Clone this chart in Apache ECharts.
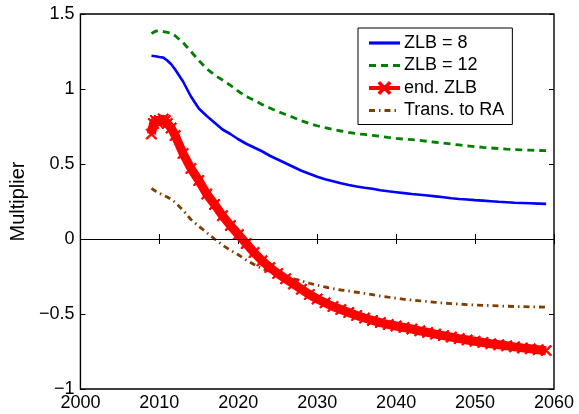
<!DOCTYPE html>
<html>
<head>
<meta charset="utf-8">
<script src="https://cdn.jsdelivr.net/npm/echarts@6/dist/echarts.min.js"></script>
<style>
html,body{margin:0;padding:0;background:#fff;}
#c{width:579px;height:414px;}
</style>
</head>
<body>
<div id="c"></div>
<script>
const years = [2009, 2009.25, 2009.5, 2009.75, 2010, 2010.25, 2010.5, 2010.75, 2011, 2011.5,
  2012, 2013, 2014, 2015, 2016, 2017, 2018, 2019, 2020, 2021, 2022, 2023, 2024, 2025, 2026, 2027, 2028, 2029,
  2030, 2031, 2032, 2033, 2034, 2035, 2036, 2037, 2038, 2039, 2040, 2041, 2042, 2043, 2044, 2045, 2046, 2047,
  2048, 2049, 2050, 2051, 2052, 2053, 2054, 2055, 2056, 2057, 2058, 2059];

const zlb8 = [1.222, 1.222, 1.218, 1.215, 1.213, 1.211, 1.209, 1.205, 1.19, 1.165,
  1.13, 1.05, 0.95, 0.87, 0.82, 0.775, 0.73, 0.70, 0.665, 0.635, 0.61, 0.585, 0.555, 0.53, 0.505, 0.48, 0.455, 0.435,
  0.415, 0.398, 0.385, 0.372, 0.36, 0.35, 0.342, 0.335, 0.325, 0.318, 0.312, 0.306, 0.30, 0.295, 0.29, 0.284, 0.278, 0.272,
  0.267, 0.263, 0.259, 0.256, 0.252, 0.248, 0.245, 0.242, 0.240, 0.238, 0.236, 0.234];

const zlb12 = [1.37, 1.378, 1.385, 1.388, 1.388, 1.386, 1.383, 1.38, 1.378, 1.372,
  1.355, 1.31, 1.25, 1.19, 1.135, 1.093, 1.06, 1.025, 0.985, 0.95, 0.925, 0.897, 0.873, 0.85, 0.83, 0.81, 0.788, 0.77,
  0.755, 0.742, 0.73, 0.72, 0.71, 0.702, 0.697, 0.691, 0.684, 0.677, 0.671, 0.666, 0.662, 0.657, 0.651, 0.645, 0.639, 0.633,
  0.627, 0.621, 0.616, 0.611, 0.607, 0.603, 0.599, 0.596, 0.594, 0.592, 0.590, 0.589];

const endZlb = [0.70, 0.77, 0.79, 0.78, 0.79, 0.78, 0.80, 0.79, 0.77, 0.74,
  0.69, 0.57, 0.47, 0.39, 0.30, 0.23, 0.155, 0.09, 0.03, -0.03, -0.09, -0.145, -0.19, -0.23, -0.265, -0.30, -0.335, -0.37,
  -0.40, -0.425, -0.45, -0.47, -0.49, -0.51, -0.527, -0.543, -0.557, -0.57, -0.58, -0.59, -0.60, -0.612, -0.623, -0.634, -0.644, -0.654,
  -0.664, -0.673, -0.682, -0.69, -0.698, -0.705, -0.712, -0.719, -0.726, -0.732, -0.738, -0.744];

const transRA = [0.338, 0.33, 0.32, 0.312, 0.305, 0.298, 0.292, 0.286, 0.28, 0.265,
  0.245, 0.192, 0.13, 0.085, 0.042, 0.0, -0.04, -0.075, -0.105, -0.14, -0.17, -0.197, -0.215, -0.232, -0.25, -0.265, -0.28, -0.295,
  -0.308, -0.32, -0.33, -0.34, -0.347, -0.355, -0.363, -0.371, -0.38, -0.388, -0.395, -0.402, -0.407, -0.412, -0.417, -0.422, -0.427, -0.431,
  -0.434, -0.437, -0.44, -0.442, -0.444, -0.446, -0.448, -0.45, -0.451, -0.452, -0.453, -0.455];

const seriesNames = ['ZLB = 8', 'ZLB = 12', 'end. ZLB', 'Trans. to RA'];
const yAxisName = 'Multiplier';

function pairs(vals) { return years.map((y, i) => [y, vals[i]]); }
function fmtY(v) {
  const s = String(Math.abs(v));
  return v < 0 ? '\u2212' + s : s;
}
function fmtX(v) { return String(v); }
const FONT = 'Liberation Sans, Arial, Helvetica, sans-serif';
const crossPath = 'path://M0,1 L1,0 L5,4 L9,0 L10,1 L6,5 L10,9 L9,10 L5,6 L1,10 L0,9 L4,5 Z';

const chart = echarts.init(document.getElementById('c'), null, {renderer: 'canvas'});
chart.setOption({
  animation: false,
  backgroundColor: '#fff',
  grid: {left: 79, right: 25, top: 14, bottom: 25, show: true, borderColor: '#000', borderWidth: 1.4, backgroundColor: 'transparent'},
  legend: {
    orient: 'vertical', left: 358, top: 28,
    backgroundColor: '#fff', borderColor: '#000', borderWidth: 1,
    padding: [6, 8, 5, 9], itemGap: 4.5, itemWidth: 31, itemHeight: 14,
    textStyle: {fontFamily: FONT, fontSize: 18, color: '#000', padding: [0, 0, 0, -1]},
    data: [
      {name: seriesNames[0], itemStyle: {opacity: 0}, lineStyle: {width: 3.2}},
      {name: seriesNames[1], itemStyle: {opacity: 0}, lineStyle: {width: 3.2}},
      {name: seriesNames[2], lineStyle: {width: 4}},
      {name: seriesNames[3], itemStyle: {opacity: 0}, lineStyle: {width: 3.2}}
    ]
  },
  xAxis: [{
    type: 'value', min: 2000, max: 2060, interval: 10,
    axisLine: {show: false},
    axisTick: {show: true, inside: true, length: 5, lineStyle: {color: '#000', width: 1}},
    axisLabel: {fontFamily: FONT, fontSize: 18, color: '#000', margin: 5, formatter: fmtX},
    splitLine: {show: false}
  }, {
    type: 'value', min: 2000, max: 2060, interval: 10, position: 'top',
    axisLine: {show: false},
    axisTick: {show: true, inside: true, length: 5, lineStyle: {color: '#000', width: 1}},
    axisLabel: {show: false}, splitLine: {show: false}
  }],
  yAxis: [{
    type: 'value', min: -1, max: 1.5, interval: 0.5,
    name: yAxisName, nameLocation: 'middle', nameGap: 50,
    nameTextStyle: {fontFamily: FONT, fontSize: 20, color: '#000'},
    axisLine: {show: false},
    axisTick: {show: true, inside: true, length: 5, lineStyle: {color: '#000', width: 1}},
    axisLabel: {fontFamily: FONT, fontSize: 18, color: '#000', margin: 6, formatter: fmtY},
    splitLine: {show: false}
  }, {
    type: 'value', min: -1, max: 1.5, interval: 0.5, position: 'right',
    axisLine: {show: false},
    axisTick: {show: true, inside: true, length: 5, lineStyle: {color: '#000', width: 1}},
    axisLabel: {show: false}, splitLine: {show: false}
  }],
  series: [
    {
      name: seriesNames[0], type: 'line', data: pairs(zlb8), showSymbol: false, symbol: 'none',
      lineStyle: {color: '#0000ff', width: 2.6}, itemStyle: {color: '#0000ff'}, z: 3,
      markLine: {
        silent: true, symbol: 'none', label: {show: false},
        lineStyle: {color: '#000', width: 1, type: 'solid'},
        data: [{yAxis: 0}]
      }
    },
    {
      name: seriesNames[1], type: 'line', data: pairs(zlb12), showSymbol: false, symbol: 'none',
      lineStyle: {color: '#008000', width: 2.8, type: [7, 5]}, itemStyle: {color: '#008000'}, z: 3
    },
    {
      name: seriesNames[2], type: 'line', data: pairs(endZlb), symbol: crossPath, symbolSize: 11, showSymbol: true,
      lineStyle: {color: '#ff0000', width: 9}, itemStyle: {color: '#ff0000', borderColor: '#ff0000', borderWidth: 1}, z: 4
    },
    {
      name: seriesNames[3], type: 'line', data: pairs(transRA), showSymbol: false, symbol: 'none',
      lineStyle: {color: '#7f3f00', width: 2.8, type: [6, 4, 1.5, 4]}, itemStyle: {color: '#7f3f00'}, z: 3
    }
  ]
});
</script>
</body>
</html>
